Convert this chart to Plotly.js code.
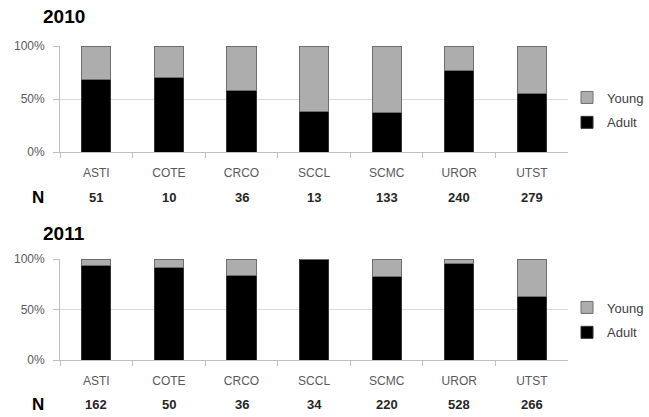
<!DOCTYPE html>
<html>
<head>
<meta charset="utf-8">
<script src="https://cdn.plot.ly/plotly-3.0.1.min.js"></script>
<style>html,body{margin:0;padding:0;background:#fff;}#chart{width:649px;height:417px;}</style>
</head>
<body>
<div id="chart"></div>
<script>
var categories = ["ASTI", "COTE", "CRCO", "SCCL", "SCMC", "UROR", "UTST"];
var adult2010 = [68.6, 70, 58.3, 38.5, 36.8, 76.7, 55.6];
var young2010 = [31.4, 30, 41.7, 61.5, 63.2, 23.3, 44.4];
var n2010 = [51, 10, 36, 13, 133, 240, 279];
var adult2011 = [93.2, 92, 83.3, 100, 82.7, 95.1, 62.8];
var young2011 = [6.8, 8, 16.7, 0, 17.3, 4.9, 37.2];
var n2011 = [162, 50, 36, 34, 220, 528, 266];
var yearTitles = ["2010", "2011"];
var seriesNames = ["Adult", "Young"];
var yTickVals = [0, 50, 100];
var yTickText = ["0%", "50%", "100%"];

var adultColor = "#000000";
var youngColor = "#adadad";
var txtFont = "Liberation Sans, Arial, sans-serif";

function barTrace(vals, name, color, xa, ya, leg, lineColor, rank) {
  return {
    type: "bar", x: categories, y: vals, name: name,
    xaxis: xa, yaxis: ya, legend: leg, legendgroup: name + leg, legendrank: rank,
    marker: {color: color, line: {color: lineColor, width: 1}},
    hoverinfo: "skip"
  };
}

var data = [
  barTrace(adult2010, seriesNames[0], adultColor, "x", "y", "legend", "#333333", 2),
  barTrace(young2010, seriesNames[1], youngColor, "x", "y", "legend", "#6e6e6e", 1),
  barTrace(adult2011, seriesNames[0], adultColor, "x2", "y2", "legend2", "#333333", 2),
  barTrace(young2011, seriesNames[1], youngColor, "x2", "y2", "legend2", "#6e6e6e", 1)
];

var xDom = [61/649, 577/649];
function xAxis(anchor) {
  return {
    domain: xDom, anchor: anchor, type: "category",
    showline: true, linecolor: "#bfbfbf", linewidth: 1,
    ticks: "outside", tickson: "boundaries", ticklen: 5, tickcolor: "#bfbfbf",
    ticklabelstandoff: 10,
    showgrid: false, zeroline: false,
    tickfont: {family: txtFont, size: 12, color: "#595959"},
    fixedrange: true
  };
}
function yAxis(anchor, dom) {
  return {
    domain: dom, anchor: anchor, range: [0, 100], tickmode: "array",
    tickvals: yTickVals, ticktext: yTickText,
    showgrid: true, gridcolor: "#d9d9d9", gridwidth: 1,
    zeroline: false, showline: true, linecolor: "#bfbfbf", linewidth: 1,
    ticks: "outside", ticklen: 6, tickcolor: "#bfbfbf", ticklabelstandoff: 6,
    tickfont: {family: txtFont, size: 12, color: "#595959"},
    fixedrange: true
  };
}

var annotations = [];
function addTitle(text, y) {
  annotations.push({text: "<b>" + text + "</b>", xref: "paper", yref: "paper",
    x: 42/649, y: y, xanchor: "left", yanchor: "middle", showarrow: false,
    font: {family: txtFont, size: 19, color: "#000000"}});
}
function addN(vals, xref, y) {
  annotations.push({text: "<b>N</b>", xref: "paper", yref: "paper", x: 39/649, y: y,
    xanchor: "center", yanchor: "middle", showarrow: false,
    font: {family: txtFont, size: 17, color: "#000000"}});
  for (var i = 0; i < categories.length; i++) {
    annotations.push({text: "<b>" + vals[i] + "</b>", xref: xref, yref: "paper",
      x: categories[i], y: y, xanchor: "center", yanchor: "middle", showarrow: false,
      font: {family: txtFont, size: 13, color: "#262626"}});
  }
}
addTitle(yearTitles[0], 1 - 17/417);
addTitle(yearTitles[1], 1 - 233/417);
addN(n2010, "x", 1 - 198/417);
addN(n2011, "x2", 1 - 404/417);

function legendCfg(y) {
  return {x: 576/649, y: y, xanchor: "left", yanchor: "middle", traceorder: "grouped",
    tracegroupgap: 5, itemwidth: 30, bgcolor: "rgba(0,0,0,0)",
    font: {family: txtFont, size: 13, color: "#404040"}};
}

var layout = {
  width: 649, height: 417,
  margin: {l: 0, r: 0, t: 0, b: 0},
  paper_bgcolor: "#ffffff", plot_bgcolor: "#ffffff",
  barmode: "stack", bargap: 0.6,
  showlegend: true,
  xaxis: xAxis("y"),
  yaxis: yAxis("x", [1 - 152/417, 1 - 46/417]),
  xaxis2: xAxis("y2"),
  yaxis2: yAxis("x2", [1 - 360/417, 1 - 259/417]),
  legend: legendCfg(1 - 110/417),
  legend2: legendCfg(1 - 320/417),
  annotations: annotations
};

Plotly.newPlot("chart", data, layout, {staticPlot: true, displayModeBar: false});
</script>
</body>
</html>
